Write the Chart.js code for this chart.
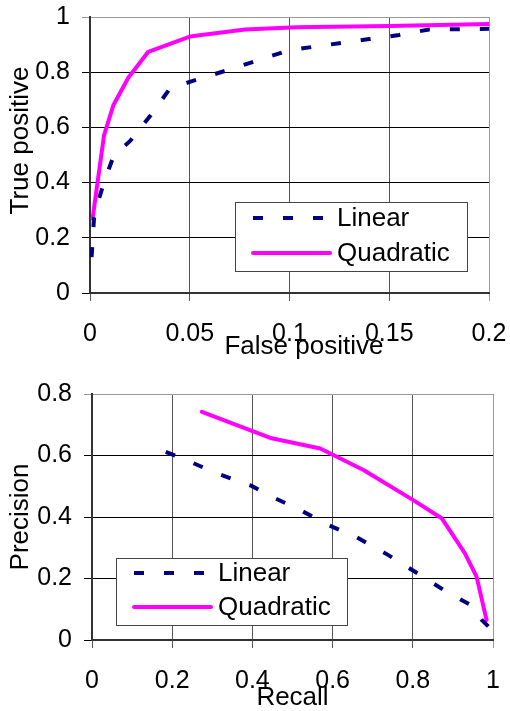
<!DOCTYPE html>
<html>
<head>
<meta charset="utf-8">
<script src="https://cdn.jsdelivr.net/npm/chart.js@4"></script>
<style>
  body { margin: 0; background: #fff; }
  #wrap { position: relative; width: 510px; height: 711px; }
  canvas { position: absolute; left: 0; }
</style>
</head>
<body>
<div id="wrap">
  <canvas id="roc" width="510" height="370" style="top:0"></canvas>
  <canvas id="pr" width="510" height="341" style="top:370px"></canvas>
</div>
<script>
// ROC curve (top)
const rocFprLinear = [0.0008, 0.002, 0.004, 0.007, 0.012, 0.02, 0.03, 0.04, 0.05, 0.07, 0.085, 0.1, 0.125, 0.14, 0.155, 0.17, 0.2];
const rocTprLinear = [0.13, 0.27, 0.33, 0.40, 0.50, 0.55, 0.64, 0.74, 0.765, 0.81, 0.845, 0.88, 0.905, 0.92, 0.935, 0.955, 0.957];
const rocFprQuad = [0.0013, 0.007, 0.0117, 0.0192, 0.0292, 0.05, 0.0777, 0.1036, 0.15, 0.2];
const rocTprQuad = [0.27, 0.57, 0.68, 0.78, 0.874, 0.929, 0.955, 0.963, 0.967, 0.975];

// Precision / recall (bottom)
const prRecallLinear = [0.149, 0.219, 0.311, 0.398, 0.452, 0.523, 0.589, 0.660, 0.739, 0.814, 0.880, 0.947, 0.972, 0.997];
const prPrecLinear = [0.629, 0.594, 0.542, 0.501, 0.464, 0.420, 0.374, 0.334, 0.276, 0.215, 0.160, 0.112, 0.065, 0.033];
const prRecallQuad = [0.274, 0.448, 0.569, 0.677, 0.801, 0.872, 0.930, 0.959, 0.984];
const prPrecQuad = [0.742, 0.656, 0.623, 0.553, 0.455, 0.396, 0.282, 0.206, 0.065];

const fprTicks = [0, 0.05, 0.1, 0.15, 0.2];
const tprTicks = [0, 0.2, 0.4, 0.6, 0.8, 1];
const recallTicks = [0, 0.2, 0.4, 0.6, 0.8, 1];
const precTicks = [0, 0.2, 0.4, 0.6, 0.8];

const FONT = '"Liberation Sans", Arial, sans-serif';
const pts = (xs, ys) => xs.map((x, i) => ({x: x, y: ys[i]}));

// legend drawn as a framed box inside the plot
const boxLegend = {
  id: 'boxLegend',
  afterDatasetsDraw(chart, args, opts) {
    const {ctx, chartArea} = chart;
    const x = chartArea.left + opts.x, y = chartArea.top + opts.y;
    ctx.save();
    ctx.fillStyle = '#fff';
    ctx.fillRect(x, y, opts.width, opts.height);
    ctx.strokeStyle = '#444';
    ctx.lineWidth = 1;
    ctx.strokeRect(Math.round(x) + 0.5, Math.round(y) + 0.5, opts.width, opts.height);
    ctx.font = '26px ' + FONT;
    ctx.textBaseline = 'middle';
    chart.data.datasets.forEach((ds, i) => {
      const ry = y + opts.rowTop + i * opts.rowGap;
      ctx.strokeStyle = ds.borderColor;
      ctx.lineWidth = ds.borderWidth;
      ctx.lineCap = ds.borderDash ? 'butt' : 'round';
      ctx.setLineDash(ds.borderDash || []);
      ctx.beginPath();
      ctx.moveTo(x + 18, ry);
      ctx.lineTo(x + 95, ry);
      ctx.stroke();
      ctx.setLineDash([]);
      ctx.fillStyle = '#000';
      ctx.fillText(ds.label, x + 102, ry + 1);
    });
    ctx.restore();
  }
};

function makeChart(id, cfg) {
  const lastIs = (arr, c) => (c.tick && c.tick.value === arr[arr.length - 1]) ? '#999' : null;
  return new Chart(document.getElementById(id), {
    type: 'scatter',
    data: {
      datasets: [{
        label: 'Linear',
        data: cfg.linear,
        showLine: true,
        borderColor: '#000080',
        borderWidth: 4,
        borderDash: [10, 20],
        borderDashOffset: cfg.dashOffset,
        pointRadius: 0,
        tension: 0
      }, {
        label: 'Quadratic',
        data: cfg.quad,
        showLine: true,
        borderColor: '#ff00ff',
        borderWidth: 4,
        borderCapStyle: 'round',
        borderJoinStyle: 'round',
        pointRadius: 0,
        tension: 0
      }]
    },
    options: {
      responsive: false,
      devicePixelRatio: 1,
      animation: false,
      layout: { padding: cfg.padding },
      plugins: {
        legend: { display: false },
        tooltip: { enabled: false },
        boxLegend: cfg.legend
      },
      scales: {
        x: {
          type: 'linear',
          min: cfg.xTicks[0],
          max: cfg.xTicks[cfg.xTicks.length - 1],
          afterBuildTicks: s => { s.ticks = cfg.xTicks.map(v => ({value: v})); },
          afterFit: s => { s.height = cfg.xHeight; s.paddingLeft = 0; s.paddingRight = 0; },
          grid: {
            color: c => lastIs(cfg.xTicks, c) || '#555',
            lineWidth: 1,
            tickLength: 8
          },
          border: { color: '#333', width: 2 },
          ticks: {
            color: '#000',
            font: { family: FONT, size: 25 },
            padding: 18,
            maxRotation: 0,
            autoSkip: false,
            callback: v => String(v)
          },
          title: {
            display: true,
            text: cfg.xTitle,
            color: '#000',
            font: { family: FONT, size: 26, lineHeight: 1 },
            padding: { top: 0, bottom: cfg.xTitlePad }
          }
        },
        y: {
          type: 'linear',
          min: cfg.yTicks[0],
          max: cfg.yTicks[cfg.yTicks.length - 1],
          afterBuildTicks: s => { s.ticks = cfg.yTicks.map(v => ({value: v})); },
          afterFit: s => { s.width = cfg.yWidth; s.paddingTop = 0; s.paddingBottom = 0; },
          grid: {
            color: c => lastIs(cfg.yTicks, c) || '#000',
            lineWidth: 1,
            tickLength: 8
          },
          border: { color: '#333', width: 2 },
          ticks: {
            color: '#000',
            font: { family: FONT, size: 25 },
            padding: 12,
            autoSkip: false,
            callback: v => String(v)
          },
          title: {
            display: true,
            text: cfg.yTitle,
            color: '#000',
            font: { family: FONT, size: 26, lineHeight: 1 },
            padding: { top: cfg.yTitlePad, bottom: 0 }
          }
        }
      }
    },
    plugins: [boxLegend]
  });
}

makeChart('roc', {
  linear: pts(rocFprLinear, rocTprLinear),
  quad: pts(rocFprQuad, rocTprQuad),
  xTicks: fprTicks,
  yTicks: tprTicks,
  xTitle: '    False positive',
  yTitle: '    True positive',
  xTitlePad: 10,
  yTitlePad: 8,
  xHeight: 77,
  yWidth: 90,
  dashOffset: 0,
  padding: { top: 17, right: 21, left: 0, bottom: 0 },
  legend: { x: 145, y: 185, width: 232, height: 69, rowTop: 16, rowGap: 35 }
});

makeChart('pr', {
  linear: pts(prRecallLinear, prPrecLinear),
  quad: pts(prRecallQuad, prPrecQuad),
  xTicks: recallTicks,
  yTicks: precTicks,
  xTitle: 'Recall',
  yTitle: 'Precision',
  xTitlePad: 0,
  yTitlePad: 8,
  xHeight: 71,
  yWidth: 92,
  dashOffset: 15,
  padding: { top: 24, right: 17, left: 0, bottom: 0 },
  legend: { x: 24, y: 164, width: 231, height: 67, rowTop: 15, rowGap: 34 }
});
</script>
</body>
</html>
